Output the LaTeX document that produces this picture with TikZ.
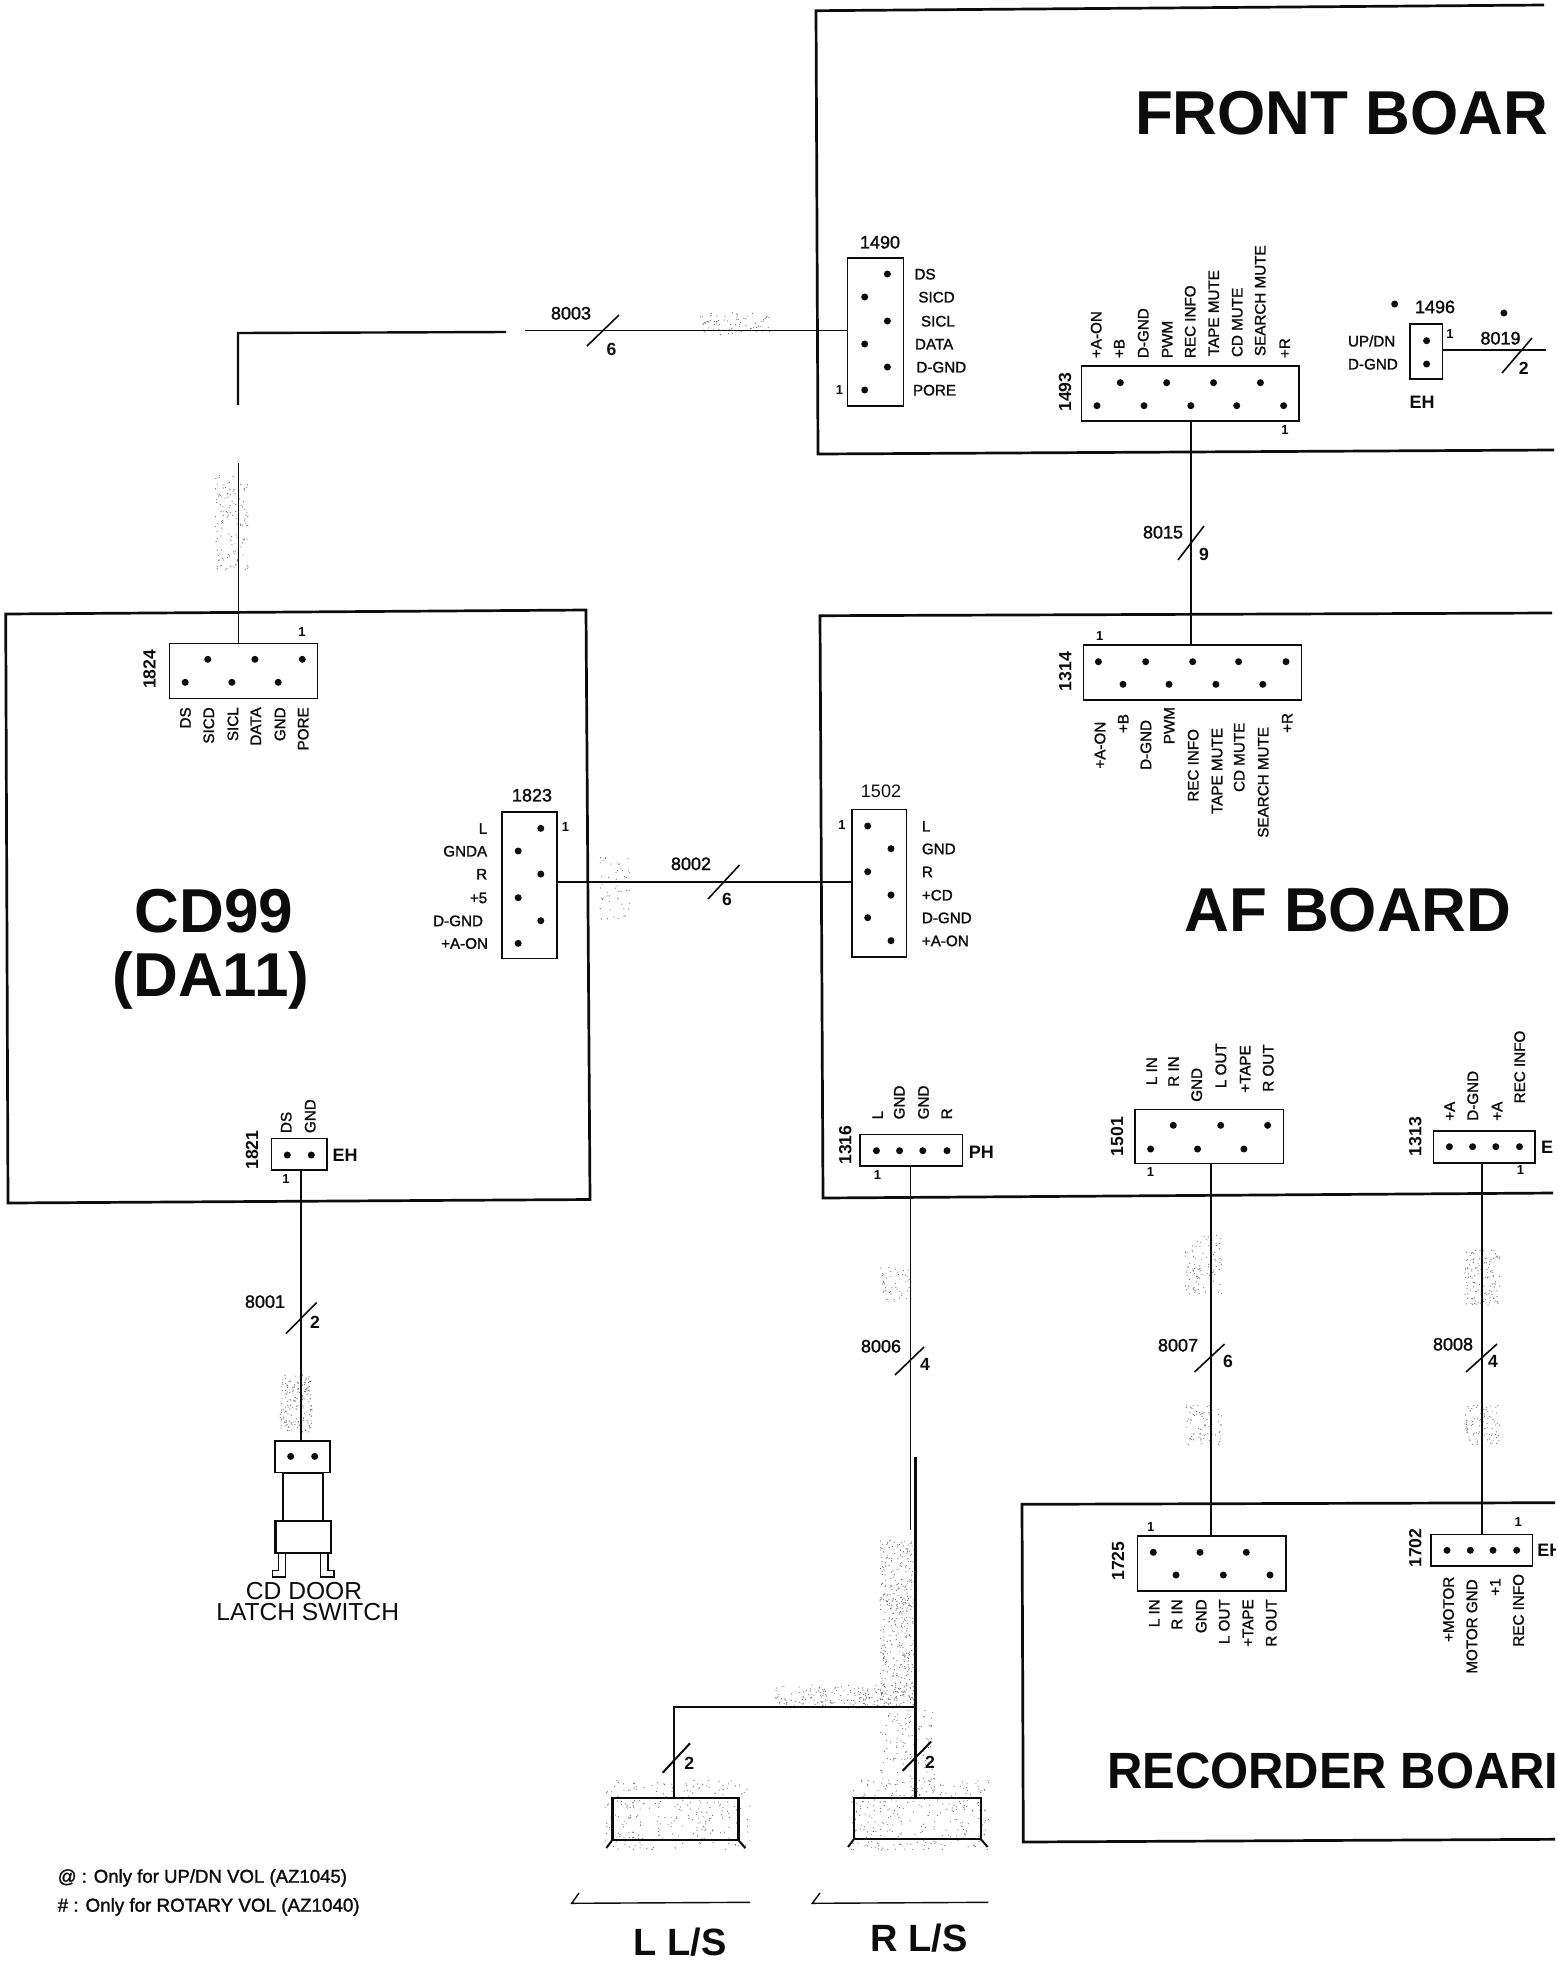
\documentclass[tikz,border=0pt]{standalone}
\usepackage{fontspec}
\setmainfont{Liberation Sans}
\newfontfamily\scanfont{Liberation Sans}[FakeBold=1.5]
\definecolor{ink}{HTML}{0C0C0C}
\newcount\labc
\newcommand\tx[4]{\global\advance\labc by 1\relax\node[#1] (t\the\labc) at (#2,#3) {#4};}
\newcommand\cbox[6][]{\node[connbox,#1,minimum width={(#5-#3)*0.5pt},minimum height={(#6-#4)*0.5pt}] (#2) at ({(#3+#5)/2},{(#4+#6)/2}) {};}
\newcommand\pins[2]{\foreach \px in {#2} {\fill[ink] (\px,#1) circle[radius=1.75pt];}}
\newcommand\speck[5]{\foreach \i in {1,...,#5} {\pgfmathsetmacro\sx{#1+rnd*(#3-#1)}\pgfmathsetmacro\sy{#2+rnd*(#4-#2)}\fill[speckcol] (\sx,\sy) circle[radius=0.3pt];}}
\begin{document}
\begin{tikzpicture}[x=0.5pt,y=-0.5pt,
  connbox/.style={draw=ink,line width=0.8pt,inner sep=0pt,outer sep=0pt,fill=none},
  board/.style={draw=ink,line width=1.35pt,line join=miter},
  wire/.style={draw=ink,line width=0.85pt},
  wirethick/.style={draw=ink,line width=1.2pt},
  tick/.style={draw=ink,line width=0.8pt},
  speckcol/.style={fill=ink!60},
  base/.style={inner sep=0pt,outer sep=0pt,text=ink,text depth=0pt},
  sm/.style={base,text height=5.44pt,font=\scanfont\fontsize{7.6}{9}\selectfont},
  num/.style={base,text height=6.44pt,font=\scanfont\fontsize{9}{10}\selectfont},
  rnum/.style={base,text height=6.3pt,rotate=90,font=\bfseries\fontsize{8.8}{10}\selectfont},
  numb/.style={base,text height=6.3pt,font=\bfseries\fontsize{8.8}{10}\selectfont},
  one/.style={base,text height=4.65pt,font=\bfseries\fontsize{6.5}{8}\selectfont},
  cnt/.style={base,text height=6.44pt,font=\bfseries\fontsize{9}{10}\selectfont},
  pl/.style={sm,anchor=west},
  pr/.style={sm,anchor=east},
  ru/.style={sm,rotate=90,anchor=west},
  rd/.style={sm,rotate=90,anchor=east},
  title/.style={base,text height=22.2pt,font=\bfseries\fontsize{31}{34}\selectfont},
  ]
\useasboundingbox (0,0) rectangle (1558,1966);
\fill[white] (0,0) rectangle (1558,1966);
\pgfmathsetseed{42}
\begin{scope}
\clip (0,0) rectangle (1555,1966);
% scan speckle
\speck{215}{475}{248}{570}{130}
\speck{700}{312}{770}{335}{70}
\speck{600}{855}{630}{920}{50}
\speck{880}{1540}{915}{1700}{420}
\speck{775}{1685}{915}{1708}{220}
\speck{880}{1710}{935}{1800}{140}
\speck{880}{1265}{912}{1305}{50}
\speck{1185}{1235}{1222}{1295}{100}
\speck{1185}{1405}{1222}{1445}{80}
\speck{1465}{1250}{1500}{1305}{130}
\speck{1465}{1405}{1500}{1445}{90}
\speck{280}{1375}{312}{1432}{170}
\speck{605}{1780}{750}{1850}{260}
\speck{850}{1780}{990}{1850}{260}
% boards
\draw[board] (1544,5) -- (816,10.7) -- (818,454) -- (1554,450);
\draw[board] (1552,613) -- (820,615.7) -- (823,1198) -- (1553,1193);
\draw[board] (1555,1502.7) -- (1022,1504.3) -- (1023.3,1842) -- (1555,1839.3);
\draw[board] (5.7,614) -- (586,610) -- (590,1199.5) -- (8,1203) -- cycle;
% connector boxes
\cbox{n1490}{847.3}{258}{903.4}{406}
\cbox{n1493}{1081.6}{366}{1299}{421}
\cbox{n1496}{1410}{324}{1442.5}{379}
\cbox{n1314}{1083.4}{645}{1301.4}{700}
\cbox{n1502}{851.7}{809.3}{906.4}{956.7}
\cbox{n1316}{860}{1134.3}{962.5}{1166}
\cbox{n1501}{1135}{1109.3}{1283.6}{1163.3}
\cbox{n1313}{1433.5}{1130.7}{1535}{1162.7}
\cbox{n1725}{1137.3}{1536}{1286}{1590.7}
\cbox{n1702}{1430.7}{1534.3}{1532.3}{1565.7}
\cbox{n1824}{169.5}{643.3}{317.6}{698.3}
\cbox{n1823}{502}{811.7}{557.2}{958.3}
\cbox{n1821}{271.3}{1138.6}{326.7}{1170.2}
% door switch
\cbox{sw1}{274.7}{1440.9}{330}{1472.6}
\cbox[line width=1.1pt]{sw2}{283.3}{1472.6}{322.7}{1520.8}
\cbox[line width=1.2pt]{sw3}{275.3}{1520.8}{330.7}{1553.2}
\draw[ink,line width=0.6pt] (278.7,1553.2) -- (278.7,1570.4) -- (272.7,1570.4) -- (272.7,1577) -- (285.3,1577) -- (285.3,1553.2);
\draw[ink,line width=0.6pt] (320.7,1553.2) -- (320.7,1577) -- (334,1577) -- (334,1570.4) -- (328,1570.4) -- (328,1553.2);
% speakers
\cbox[line width=1.2pt]{spL}{612.3}{1798}{738.3}{1840}
\cbox[line width=1.2pt]{spR}{854}{1798}{980.7}{1839}
\draw[ink,line width=1pt] (spL.south west) -- ++(-6,8);
\draw[ink,line width=1pt] (spL.south east) -- ++(7,8);
\draw[ink,line width=1pt] (spR.south west) -- ++(-6,8);
\draw[ink,line width=1pt] (spR.south east) -- ++(7,8);
% wires
\coordinate (w3a) at (238,333);
\coordinate (w3b) at (506,332);
\coordinate (w3c) at (525,330.5);
\coordinate (w3d) at (238,405);
\coordinate (w3e) at (238.5,463);
\draw[wire] (w3e) -- (n1824.north -| w3e);
\draw[wirethick] (w3d) -- (w3a) -- (w3b);
\draw[wire] (w3c) -- (n1490.west |- w3c);
\coordinate (w15) at (1191,540);
\draw[wire] (n1493.south -| w15) -- (n1314.north -| w15);
\coordinate (w19) at (1546,350);
\draw[wire] (n1496.east |- w19) -- (w19);
\coordinate (w2) at (530,882);
\draw[wire] (n1823.east |- w2) -- (n1502.west |- w2);
\coordinate (w1) at (300.7,1300);
\draw[wire] (n1821.south -| w1) -- (sw1.north -| w1);
\coordinate (w6) at (910.5,1530);
\coordinate (w6t) at (915.5,1457);
\draw[wire] (n1316.south -| w6) -- (w6);
\draw[wirethick] (w6t) -- (spR.north -| w6t);
\coordinate (w6j) at (915.5,1707);
\coordinate (w6l) at (674,1707);
\draw[wire] (w6j) -- (w6l) -- (spL.north -| w6l);
\coordinate (w7) at (1211,1300);
\draw[wire] (n1501.south -| w7) -- (n1725.north -| w7);
\coordinate (w8) at (1482,1300);
\draw[wire] (n1313.south -| w8) -- (n1702.north -| w8);
% bus ticks
\draw[tick] (587,346) -- (619,315);
\draw[tick] (1502,373) -- (1532,338);
\draw[tick] (1178,560) -- (1204,526);
\draw[tick] (708,899) -- (739.5,865);
\draw[tick] (286,1333.5) -- (316.7,1302.5);
\draw[tick] (895,1375) -- (924,1347);
\draw[tick] (1194.5,1372) -- (1224.5,1344);
\draw[tick] (1466,1372) -- (1497,1344);
\draw[tick,line width=1pt] (662.7,1772.7) -- (690,1743.3);
\draw[tick,line width=1pt] (902.7,1770.7) -- (931,1741.7);
% underlines
\draw[ink,line width=0.7pt] (579,1893) -- (571.7,1903.3) -- (750,1902.3);
\draw[ink,line width=0.7pt] (820,1893) -- (812.3,1903.3) -- (988.3,1902.3);
% pins
\pins{274}{887.4} \pins{297}{864.7} \pins{321}{887.4} \pins{344}{864.7} \pins{367}{887.4} \pins{390}{864.7}
\pins{382.7}{1120.3,1166.7,1213.5,1260.4}
\pins{405.7}{1097,1144,1190.8,1236.7,1283.6}
\pins{340.7}{1426.6} \pins{364}{1426.6}
\pins{304}{1394.7} \pins{313}{1503.9}
\pins{661.7}{1098.4,1145.7,1192.7,1238.6,1286}
\pins{684.3}{1123,1169,1215.9,1262.8}
\pins{826}{867.7} \pins{848.7}{891} \pins{871.7}{867.7} \pins{895}{891} \pins{917.7}{867.7} \pins{940.7}{891}
\pins{1150.7}{876.4,899.6,922.8,947}
\pins{1125.3}{1173.3,1220.7,1267.6}
\pins{1149}{1150.6,1197.5,1243.9}
\pins{1146.7}{1449.4,1472.6,1495.8,1519.5}
\pins{1552.3}{1153.3,1200,1246.3}
\pins{1575}{1176,1223.3,1270}
\pins{1550.3}{1447,1470.3,1493,1516.7}
\pins{659.3}{207.8,254.9,302.3}
\pins{682.3}{185.2,231.9,278.2}
\pins{828.3}{540.8} \pins{851}{518.2} \pins{874}{540.8} \pins{897.7}{518.2} \pins{920.7}{540.8} \pins{943.3}{518.2}
\pins{1155}{287.3,311.3}
\pins{1456.4}{290.7,314.7}
% titles
\tx{title,anchor=west}{1135}{112.5}{FRONT BOAR}
\tx{title}{1348}{909}{AF BOARD}
\tx{title,text height=18.3pt,font=\bfseries\fontsize{25.5}{28}\selectfont,anchor=west,xscale=.96}{1107}{1770}{RECORDER BOARI}
\tx{title}{214}{910}{CD99}
\tx{title}{211}{974}{(DA11)}
% 1490
\tx{num}{880}{242}{1490}
\tx{pl}{914.5}{274}{DS} \tx{pl}{918.4}{297}{SICD} \tx{pl}{921}{321}{SICL}
\tx{pl}{915}{344}{DATA} \tx{pl}{916.4}{367}{D-GND} \tx{pl}{913}{390}{PORE}
\tx{one}{839.6}{390}{1}
% 1493
\tx{rnum}{1064.7}{392}{1493}
\tx{one}{1285}{430}{1}
\tx{ru}{1096}{358}{+A-ON} \tx{ru}{1119}{358}{+B} \tx{ru}{1143}{358}{D-GND}
\tx{ru}{1167}{358}{PWM} \tx{ru}{1190}{358}{REC INFO} \tx{ru}{1213.5}{356}{TAPE MUTE}
\tx{ru}{1237}{357}{CD MUTE} \tx{ru}{1260}{356}{SEARCH MUTE} \tx{ru}{1284.5}{358}{+R}
% 1496
\tx{num}{1435}{306.7}{1496}
\tx{pl}{1348}{341}{UP/DN} \tx{pl}{1348}{364}{D-GND}
\tx{cnt}{1422}{401.7}{EH}
\tx{one}{1450}{334}{1}
\tx{num}{1500.5}{338}{8019}
\tx{numb}{1523.7}{368}{2}
% 8015
\tx{num}{1163}{532}{8015}
\tx{numb}{1204}{554}{9}
% 1314
\tx{one}{1099.8}{636}{1}
\tx{rnum}{1065}{671.7}{1314}
\tx{rd}{1099.8}{721.7}{+A-ON} \tx{rd}{1123}{714}{+B} \tx{rd}{1145.7}{720}{D-GND}
\tx{rd}{1169}{707}{PWM} \tx{rd}{1193}{729}{REC INFO} \tx{rd}{1216.8}{728}{TAPE MUTE}
\tx{rd}{1239}{722.7}{CD MUTE} \tx{rd}{1263}{727}{SEARCH MUTE} \tx{rd}{1287}{713}{+R}
% 1502
\tx{num,font=\fontsize{9}{10}\selectfont}{881}{790.7}{1502}
\tx{one}{842}{825}{1}
\tx{pl}{921.9}{826}{L} \tx{pl}{921.9}{848.7}{GND} \tx{pl}{921.9}{871.7}{R}
\tx{pl}{921.9}{895}{+CD} \tx{pl}{921.9}{917.7}{D-GND} \tx{pl}{921.9}{940.7}{+A-ON}
% 1316
\tx{rnum}{845}{1145}{1316}
\tx{cnt}{981.3}{1152}{PH}
\tx{one}{877.4}{1175}{1}
\tx{ru}{877.4}{1119.3}{L} \tx{ru}{899.1}{1119.3}{GND} \tx{ru}{923.3}{1119.3}{GND} \tx{ru}{946.5}{1119.3}{R}
% 1501
\tx{rnum}{1116.7}{1136.7}{1501}
\tx{one}{1150.6}{1171.7}{1}
\tx{ru}{1151.5}{1085}{L IN} \tx{ru}{1173.3}{1086.7}{R IN} \tx{ru}{1196.5}{1101.7}{GND}
\tx{ru}{1220.7}{1088}{L OUT} \tx{ru}{1244.9}{1092.7}{+TAPE} \tx{ru}{1268}{1091.7}{R OUT}
% 1313
\tx{rnum}{1415}{1136.7}{1313}
\tx{one}{1520.5}{1170}{1}
\tx{cnt}{1547}{1147}{E}
\tx{ru}{1449.4}{1120.7}{+A} \tx{ru}{1472.6}{1120.7}{D-GND} \tx{ru}{1496.8}{1120.7}{+A} \tx{ru}{1519.5}{1103.3}{REC INFO}
% wire labels
\tx{num}{571}{313}{8003}
\tx{numb}{611.4}{349}{6}
\tx{num}{691}{863.6}{8002}
\tx{numb}{727}{899}{6}
\tx{num}{265}{1301.4}{8001}
\tx{numb}{315}{1322}{2}
\tx{num}{881}{1346}{8006}
\tx{numb}{925}{1364}{4}
\tx{num}{1178}{1345}{8007}
\tx{numb}{1228}{1361}{6}
\tx{num}{1453}{1344}{8008}
\tx{numb}{1493}{1361}{4}
\tx{numb}{689.3}{1762.7}{2}
\tx{numb}{930}{1761.7}{2}
% 1725
\tx{one}{1150.7}{1526.7}{1}
\tx{rnum}{1117.7}{1561}{1725}
\tx{rd}{1154}{1599.3}{L IN} \tx{rd}{1176.7}{1599.3}{R IN} \tx{rd}{1201}{1599.3}{GND}
\tx{rd}{1224}{1599.3}{L OUT} \tx{rd}{1247.7}{1599.3}{+TAPE} \tx{rd}{1271}{1599.3}{R OUT}
% 1702
\tx{one}{1518.3}{1521.7}{1}
\tx{rnum}{1415}{1548}{1702}
\tx{cnt,anchor=west}{1537.3}{1550}{EH}
\tx{rd}{1448.3}{1576.7}{+MOTOR} \tx{rd}{1471.7}{1579.3}{MOTOR GND} \tx{rd}{1495}{1578.3}{+1} \tx{rd}{1518.3}{1574}{REC INFO}
% 1824
\tx{one}{302}{632.3}{1}
\tx{rnum}{149.3}{669.3}{1824}
\tx{rd}{185.2}{707.3}{DS} \tx{rd}{208.6}{707.3}{SICD} \tx{rd}{232.7}{707.3}{SICL}
\tx{rd}{255.6}{707.3}{DATA} \tx{rd}{279.8}{707.3}{GND} \tx{rd}{303}{707.3}{PORE}
% 1823
\tx{num}{532}{795}{1823}
\tx{one}{565.6}{827}{1}
\tx{pr}{487.2}{828.3}{L} \tx{pr}{487.2}{851}{GNDA} \tx{pr}{487.2}{874}{R}
\tx{pr}{487.2}{897.7}{+5} \tx{pr}{483}{920.7}{D-GND} \tx{pr}{488}{943.3}{+A-ON}
% 1821
\tx{one}{286}{1178.5}{1}
\tx{rnum}{251.7}{1150}{1821}
\tx{cnt}{345}{1155}{EH}
\tx{ru}{286}{1133}{DS} \tx{ru}{310}{1133}{GND}
% switch text
\tx{base,text height=8.8pt,font=\fontsize{12.3}{14}\selectfont}{304}{1590.7}{CD DOOR}
\tx{base,text height=8.8pt,font=\fontsize{12.3}{14}\selectfont}{307.7}{1612}{LATCH SWITCH}
% speaker titles
\tx{base,text height=13.6pt,font=\bfseries\fontsize{19}{21}\selectfont}{680}{1941.7}{L L/S}
\tx{base,text height=13.6pt,font=\bfseries\fontsize{19}{21}\selectfont}{919.3}{1938.3}{R L/S}
% footer
\tx{base,text height=6.7pt,font=\scanfont\fontsize{9.3}{11}\selectfont,anchor=west}{57.7}{1876}{@ : Only for UP/DN VOL (AZ1045)}
\tx{base,text height=6.7pt,font=\scanfont\fontsize{9.4}{11}\selectfont,anchor=west}{57.7}{1905}{\# : Only for ROTARY VOL (AZ1040)}
\end{scope}
\end{tikzpicture}
\end{document}
